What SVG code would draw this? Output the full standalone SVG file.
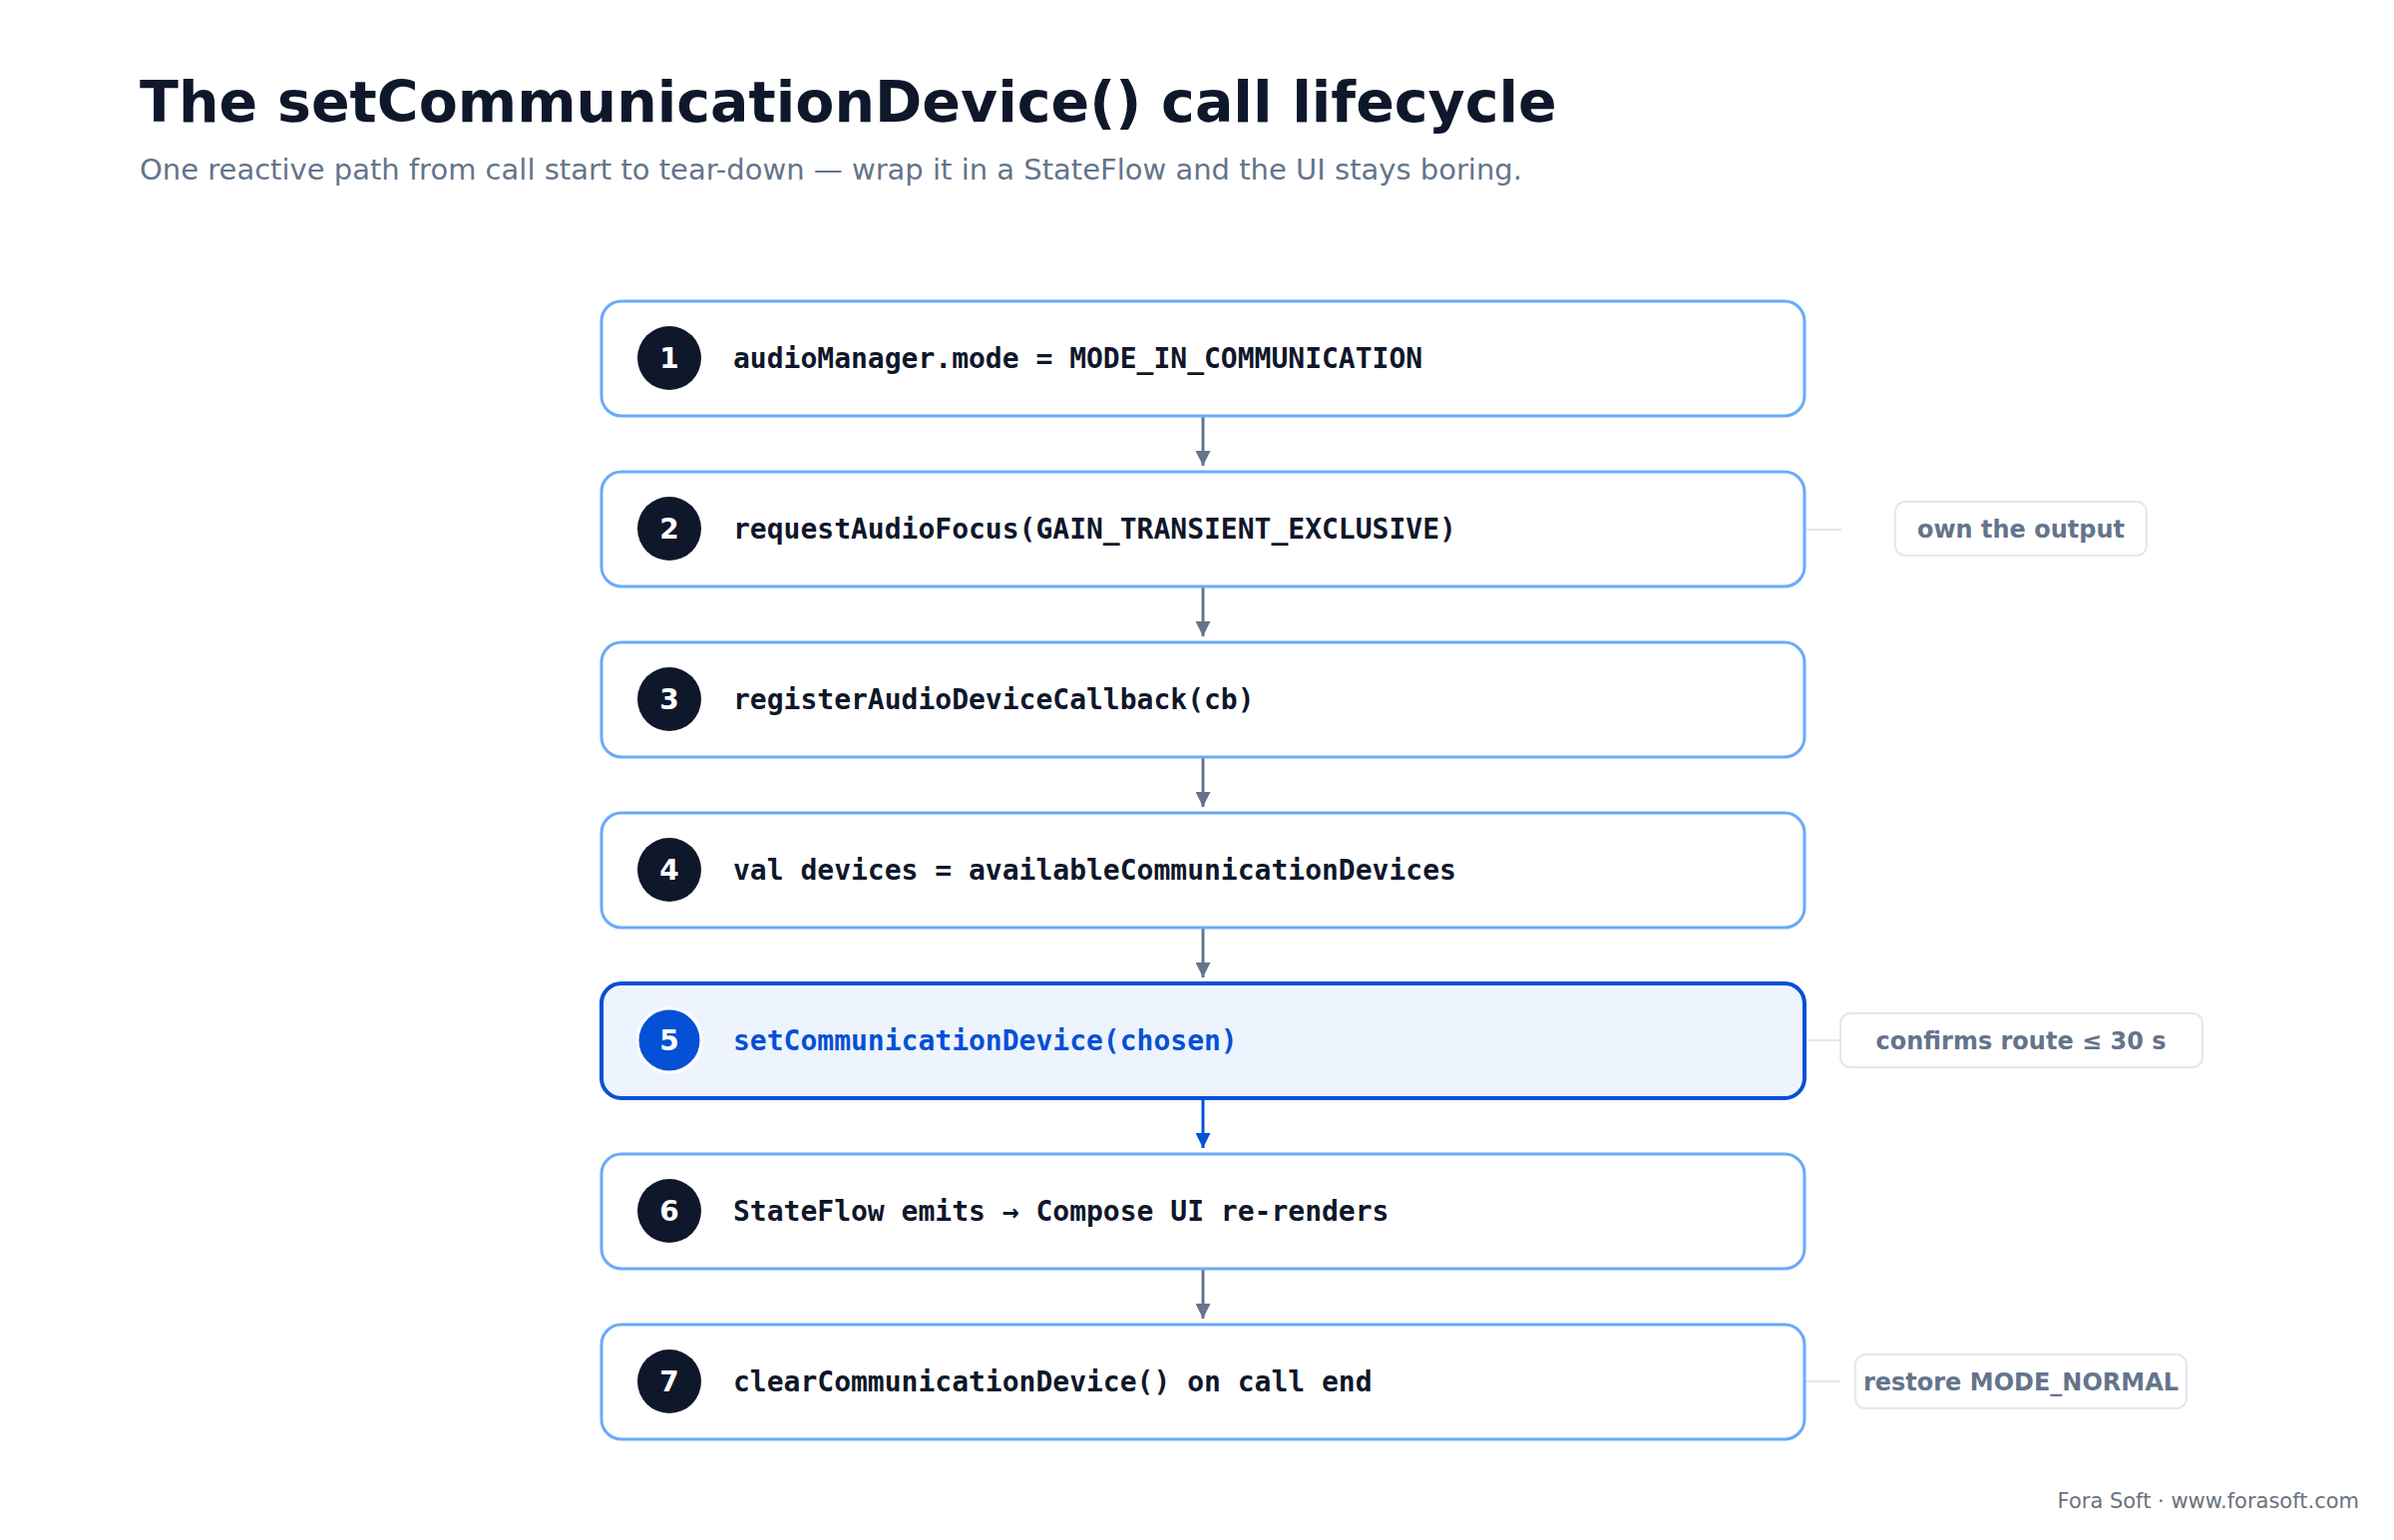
<svg xmlns="http://www.w3.org/2000/svg" width="2400" height="1544" viewBox="0 0 2400 1544">
<style>
.box{fill:#fff;stroke:#6aabf7;stroke-width:3}
.hbox{fill:#eef4fe;stroke:#0450d6;stroke-width:4}
.num{fill:#0f172a}
.hnum{fill:#0450d6;stroke:#fff;stroke-width:3}
.nt{font-family:"DejaVu Sans",sans-serif;font-weight:bold;font-size:28px;fill:#fff;text-anchor:middle}
.code{font-family:"DejaVu Sans Mono",monospace;font-weight:bold;font-size:28px;fill:#0f172a}
.note{fill:#fff;stroke:#e2e8f0;stroke-width:2}
.nott{font-family:"DejaVu Sans",sans-serif;font-weight:bold;font-size:24px;fill:#64748b;text-anchor:middle}
.ln{stroke:#e2e8f0;stroke-width:2}
.ar{stroke:#64748b;stroke-width:3;fill:none}
</style>
<defs>
<marker id="ah" viewBox="0 0 10 10" refX="10" refY="5" markerWidth="5" markerHeight="5" markerUnits="strokeWidth" orient="auto"><path d="M0,0L10,5L0,10z" fill="#64748b"/></marker>
<marker id="ahb" viewBox="0 0 10 10" refX="10" refY="5" markerWidth="5" markerHeight="5" markerUnits="strokeWidth" orient="auto"><path d="M0,0L10,5L0,10z" fill="#0450d6"/></marker>
</defs>
<rect width="2400" height="1544" fill="#fff"/>
<text x="140" y="122" font-family="DejaVu Sans,sans-serif" font-weight="bold" font-size="57" fill="#0f172a">The setCommunicationDevice() call lifecycle</text>
<text x="140" y="180" font-family="DejaVu Sans,sans-serif" font-size="29" fill="#64748b">One reactive path from call start to tear-down — wrap it in a StateFlow and the UI stays boring.</text>
<g id="connectors">
<line class="ar" x1="1206" y1="417" x2="1206" y2="467" marker-end="url(#ah)"/>
<line class="ar" x1="1206" y1="588" x2="1206" y2="638" marker-end="url(#ah)"/>
<line class="ar" x1="1206" y1="759" x2="1206" y2="809" marker-end="url(#ah)"/>
<line class="ar" x1="1206" y1="930" x2="1206" y2="980" marker-end="url(#ah)"/>
<line class="ar" x1="1206" y1="1101" x2="1206" y2="1151" marker-end="url(#ahb)" style="stroke:#0450d6"/>
<line class="ar" x1="1206" y1="1272" x2="1206" y2="1322" marker-end="url(#ah)"/>
<line class="ln" x1="1809" y1="531" x2="1846" y2="531"/>
<line class="ln" x1="1809" y1="1043" x2="1845" y2="1043"/>
<line class="ln" x1="1809" y1="1385" x2="1845" y2="1385"/>
</g>
<g id="n1"><rect class="box" x="603" y="302" width="1206" height="115" rx="20"/><circle class="num" cx="671" cy="359" r="32"/><text class="nt" x="671" y="369">1</text><text class="code" x="735" y="369">audioManager.mode = MODE_IN_COMMUNICATION</text></g>
<g id="n2"><rect class="box" x="603" y="473" width="1206" height="115" rx="20"/><circle class="num" cx="671" cy="530" r="32"/><text class="nt" x="671" y="540">2</text><text class="code" x="735" y="540">requestAudioFocus(GAIN_TRANSIENT_EXCLUSIVE)</text></g>
<g id="n3"><rect class="box" x="603" y="644" width="1206" height="115" rx="20"/><circle class="num" cx="671" cy="701" r="32"/><text class="nt" x="671" y="711">3</text><text class="code" x="735" y="711">registerAudioDeviceCallback(cb)</text></g>
<g id="n4"><rect class="box" x="603" y="815" width="1206" height="115" rx="20"/><circle class="num" cx="671" cy="872" r="32"/><text class="nt" x="671" y="882">4</text><text class="code" x="735" y="882">val devices = availableCommunicationDevices</text></g>
<g id="n5"><rect class="hbox" x="603" y="986" width="1206" height="115" rx="20"/><circle class="hnum" cx="671" cy="1043" r="32"/><text class="nt" x="671" y="1053">5</text><text class="code" x="735" y="1053" style="fill:#0450d6">setCommunicationDevice(chosen)</text></g>
<g id="n6"><rect class="box" x="603" y="1157" width="1206" height="115" rx="20"/><circle class="num" cx="671" cy="1214" r="32"/><text class="nt" x="671" y="1224">6</text><text class="code" x="735" y="1224">StateFlow emits → Compose UI re-renders</text></g>
<g id="n7"><rect class="box" x="603" y="1328" width="1206" height="115" rx="20"/><circle class="num" cx="671" cy="1385" r="32"/><text class="nt" x="671" y="1395">7</text><text class="code" x="735" y="1395">clearCommunicationDevice() on call end</text></g>
<g id="note2"><rect class="note" x="1900" y="503" width="252" height="54" rx="10"/><text class="nott" x="2026" y="539">own the output</text></g>
<g id="note5"><rect class="note" x="1845" y="1016" width="363" height="54" rx="10"/><text class="nott" x="2026" y="1052">confirms route ≤ 30 s</text></g>
<g id="note7"><rect class="note" x="1860" y="1358" width="332" height="54" rx="10"/><text class="nott" x="2026" y="1394">restore MODE_NORMAL</text></g>
<text x="2365" y="1512" text-anchor="end" font-family="DejaVu Sans,sans-serif" font-size="21" fill="#6b7280">Fora Soft · www.forasoft.com</text>
</svg>
